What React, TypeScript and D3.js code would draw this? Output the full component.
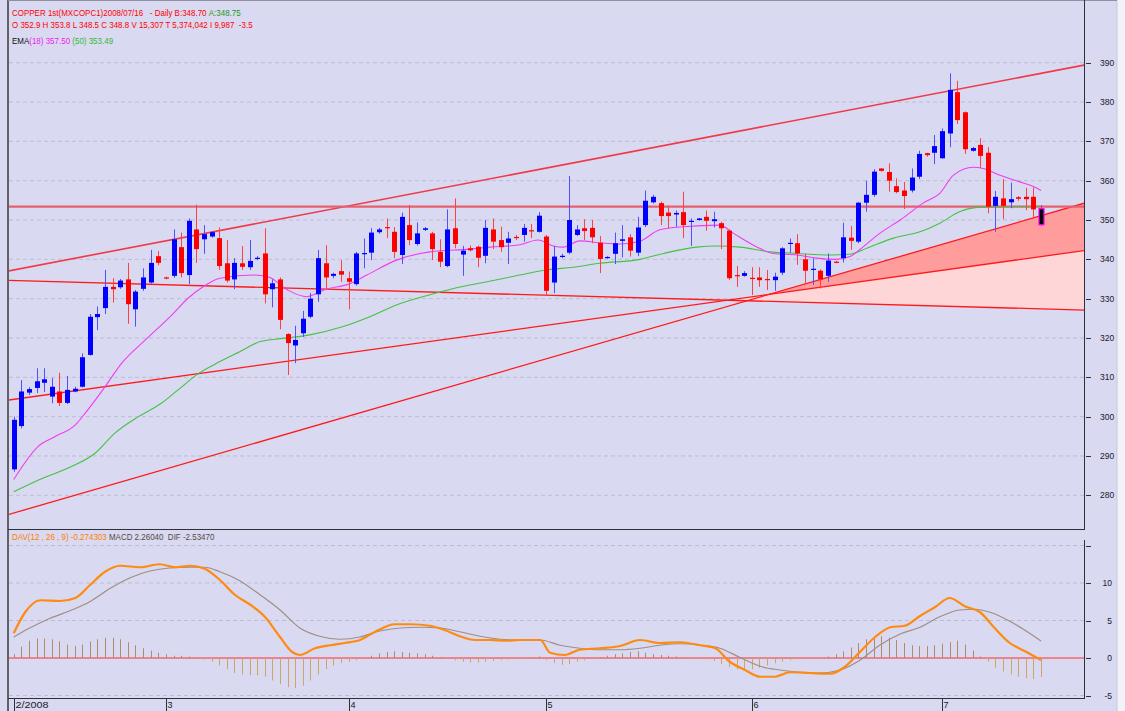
import React from "react";
import * as d3 from "d3";

const W = 1125;
const H = 711;

// ---- Daily OHLC (COPPER 1st, Feb 1 2008 .. Jul 16 2008) ----
const opens = [
  286.6, 297.6, 306.1, 307.3, 308.6, 305.1, 306.4, 303.5, 306.4, 307.6,
  315.7, 325.3, 327.6, 333.0, 332.9, 334.9, 327.3, 332.5, 334.1, 340.8,
  335.4, 335.8, 343.1, 336.0, 347.6, 345.1, 345.8, 345.4, 339.0, 334.9,
  339.0, 338.0, 340.2, 341.5, 332.4, 334.9, 321.0, 318.1, 321.2, 325.4,
  331.1, 339.0, 335.8, 337.0, 335.2, 333.7, 341.4, 341.7, 346.9, 348.2,
  347.0, 341.1, 348.7, 343.9, 347.5, 346.6, 341.9, 338.3, 347.9, 341.2,
  342.8, 343.2, 340.9, 347.6, 344.9, 344.2, 345.7, 346.2, 347.4, 347.0,
  345.8, 334.1, 340.8, 341.7, 346.2, 347.9, 348.0, 344.2, 340.4, 341.4,
  344.7, 345.6, 341.7, 348.7, 354.5, 354.3, 351.9, 351.4, 352.0, 349.5,
  350.0, 350.8, 349.7, 349.2, 347.3, 336.0, 335.8, 335.3, 335.4, 335.0,
  334.7, 336.6, 344.0, 344.1, 340.0, 337.4, 337.1, 335.8, 339.4, 340.3,
  345.5, 344.5, 354.4, 356.4, 363.1, 362.2, 358.6, 357.5, 357.5, 361.0,
  367.0, 367.1, 365.7, 372.0, 382.5, 377.4, 367.6, 369.1, 367.1, 353.6,
  355.5, 354.5, 355.8, 355.9, 355.9, 352.9,
];
const highs = [
  300.0, 309.3, 307.5, 312.3, 312.3, 309.8, 311.2, 310.3, 307.6, 316.1,
  326.1, 328.0, 337.3, 335.2, 335.0, 339.1, 332.2, 337.7, 342.4, 342.1,
  335.6, 347.6, 346.8, 350.4, 353.9, 348.7, 347.2, 348.1, 344.9, 340.3,
  343.4, 344.9, 340.8, 347.9, 334.9, 335.4, 321.2, 323.1, 326.9, 331.4,
  342.4, 343.6, 336.6, 339.8, 336.9, 341.9, 345.3, 347.9, 348.0, 350.4,
  348.2, 351.9, 353.8, 349.4, 348.2, 347.0, 345.1, 352.7, 355.5, 343.4,
  343.5, 343.5, 350.0, 350.4, 348.3, 347.0, 346.2, 349.0, 349.0, 352.0,
  346.2, 343.4, 341.4, 361.2, 348.7, 350.2, 350.0, 345.9, 340.8, 346.8,
  348.7, 346.4, 350.8, 357.5, 356.4, 354.7, 353.6, 352.4, 357.2, 350.4,
  350.5, 352.4, 352.1, 349.6, 347.6, 338.3, 337.0, 338.0, 338.0, 337.3,
  336.6, 343.1, 345.3, 346.4, 341.4, 340.3, 337.5, 341.5, 339.6, 349.3,
  348.5, 354.6, 360.0, 362.9, 363.2, 364.4, 360.6, 359.7, 363.1, 367.6,
  367.1, 371.6, 373.3, 387.3, 385.4, 377.6, 368.6, 370.8, 368.5, 357.4,
  360.4, 359.5, 356.1, 358.2, 358.3, 353.8,
];
const lows = [
  286.0, 297.0, 305.5, 306.0, 306.3, 303.4, 302.7, 303.2, 306.2, 307.4,
  315.5, 322.0, 326.1, 329.0, 332.5, 323.6, 322.9, 332.0, 333.8, 338.5,
  334.9, 335.3, 335.4, 333.7, 339.1, 341.4, 345.5, 337.3, 334.1, 332.4,
  337.3, 337.3, 339.8, 328.8, 327.8, 322.2, 310.6, 313.6, 320.3, 325.0,
  329.2, 332.6, 335.2, 334.3, 327.3, 333.3, 337.7, 339.8, 346.5, 345.4,
  340.3, 338.8, 343.6, 343.5, 347.2, 339.8, 338.0, 338.0, 342.8, 335.8,
  342.0, 338.0, 339.0, 342.6, 341.9, 338.8, 344.9, 344.5, 345.4, 346.8,
  330.7, 331.4, 340.3, 341.3, 345.9, 344.9, 344.1, 336.5, 340.2, 338.8,
  340.5, 340.7, 340.8, 348.2, 354.2, 348.7, 347.9, 348.3, 345.4, 343.4,
  349.8, 347.3, 348.1, 342.6, 334.7, 333.0, 335.6, 330.9, 333.0, 332.2,
  332.0, 336.0, 341.6, 338.6, 333.7, 333.5, 332.6, 334.3, 339.0, 339.2,
  342.4, 344.1, 352.1, 355.9, 362.3, 357.2, 356.8, 352.8, 357.0, 360.4,
  366.1, 364.2, 365.6, 368.5, 374.4, 366.8, 367.4, 363.2, 351.7, 347.0,
  350.2, 353.0, 354.9, 352.5, 350.8, 348.5,
];
const closes = [
  299.2, 306.4, 307.0, 309.0, 309.5, 307.6, 303.5, 306.8, 307.1, 315.1,
  325.4, 326.1, 333.0, 332.4, 334.6, 328.6, 331.8, 335.4, 339.1, 339.1,
  335.1, 345.1, 336.5, 349.8, 342.6, 346.4, 346.9, 338.3, 334.6, 339.1,
  338.1, 339.6, 340.4, 331.1, 333.9, 324.6, 318.7, 319.5, 324.9, 330.0,
  340.3, 335.4, 336.3, 336.1, 334.3, 341.5, 341.6, 346.8, 347.6, 348.0,
  341.9, 350.8, 344.9, 346.6, 347.9, 342.6, 339.4, 347.6, 343.9, 342.2,
  342.3, 340.4, 348.0, 344.5, 343.1, 345.3, 345.5, 348.0, 347.2, 351.1,
  332.0, 340.7, 340.9, 350.0, 347.6, 347.2, 345.6, 340.1, 340.6, 344.1,
  345.1, 342.2, 348.1, 354.9, 355.9, 351.0, 351.0, 351.8, 348.7, 349.8,
  350.4, 349.8, 350.2, 347.9, 335.2, 335.9, 336.5, 335.1, 334.7, 334.7,
  335.6, 342.8, 344.2, 341.5, 337.1, 337.6, 334.9, 339.7, 339.3, 345.6,
  344.7, 354.4, 356.4, 362.3, 362.5, 360.0, 357.1, 356.1, 360.8, 366.8,
  366.5, 368.8, 372.6, 383.1, 375.4, 368.0, 368.3, 366.3, 353.4, 355.9,
  353.6, 355.3, 355.4, 355.3, 352.7, 348.8,
];

// ---- Moving averages: [candle index, value] ----
const ema18 = [
  [0, 284.0], [3.2, 292.4], [5.4, 294.9], [8.1, 297.9], [9.4, 300.9], [12, 307.6],
  [14.2, 313.6], [17.3, 319.5], [20.8, 325.9], [22.9, 330.1], [25.1, 333.3],
  [27.1, 335.2], [31.5, 336.0], [33.5, 335.5], [36, 332.2], [38.5, 330.5], [41, 332.4],
  [44, 333.7], [46.4, 336.0], [50.3, 339.8], [54.7, 341.9], [59.9, 342.6],
  [62.6, 343.1], [66.5, 343.7], [68.9, 344.9], [70.9, 343.4], [72.2, 343.1],
  [74.4, 344.7], [77, 344.2], [79.7, 343.9], [82.3, 344.6], [84.9, 347.5],
  [88, 348.3], [92.8, 348.7], [94.6, 346.6], [97.6, 343.2], [99.8, 341.5],
  [102.9, 341.1], [105.5, 340.3], [108.1, 340.0], [109.9, 340.7], [111.2, 342.5],
  [113.8, 346.6], [116.5, 350.0], [119.5, 354.3], [121.7, 356.8], [123.5, 361.4],
  [126.1, 363.4], [127.4, 363.1], [129.6, 361.4], [132.2, 359.7], [134, 358.5],
  [135, 357.5],
];
const ema50 = [
  [0, 280.9], [3.5, 284.1], [7.6, 287.3], [10.7, 290.7], [13.3, 295.8], [16.4, 300.0],
  [19.4, 303.4], [21.6, 306.8], [24.3, 311.0], [27.1, 314.0], [29.7, 316.5],
  [32.4, 319.1], [35.4, 319.9], [38.9, 320.8], [43.3, 322.9], [46.8, 325.4],
  [50.3, 328.4], [54.7, 331.0], [57.8, 332.6], [62.2, 334.3], [66.5, 336.0],
  [70, 337.3], [73.5, 338.0], [77, 339.0], [82.3, 340.0], [85.4, 341.5],
  [89.7, 343.1], [92.4, 343.4], [95.4, 343.1], [99.4, 341.9], [102.9, 341.5],
  [107.3, 341.1], [109.9, 341.3], [112.1, 342.8], [115.6, 345.4], [119.1, 347.0],
  [121.7, 349.2], [124.3, 352.1], [126.7, 353.2], [135, 353.5],
];

// ---- Drawn trend lines: two anchors [candle index, price] each ----
const channelLine = [[0, 337.3], [135, 387.3]];
const resistanceLine = [[0, 353.4], [135, 353.4]];
const fanSteep = [[0, 275.5], [135, 351.1]];
const fanMid = [[0, 304.4], [135, 340.7]];
const fanFlat = [[0, 334.6], [135, 327.4]];

// ---- MACD panel ----
const davLine = [
  [0, 3.3], [1.5, 6.1], [3.5, 7.7], [6.1, 7.6], [8.1, 8.0], [10, 9.7], [12, 11.5],
  [14, 12.3], [16.6, 12.1], [19.2, 12.5], [21.2, 12.1], [23.2, 12.3], [25.1, 11.9],
  [27.1, 10.4], [29.1, 8.4], [31.1, 7.1], [33, 5.5], [35, 2.8], [36.6, 0.8],
  [37.6, 0.4], [39.6, 1.3], [41.6, 1.7], [43.5, 2.0], [45.5, 2.4], [47.5, 3.5],
  [50.1, 4.5], [52.1, 4.5], [54.7, 4.3], [56.7, 3.7], [58.6, 2.9], [60.6, 2.4],
  [62.6, 2.4], [64.6, 2.3], [66.5, 2.4], [69.2, 2.4], [70.5, 0.7], [72.4, 0.4],
  [74.4, 1.1], [77, 1.3], [79.7, 1.6], [82.3, 2.4], [84.9, 2.0], [87.6, 2.1],
  [90.2, 1.7], [92.2, 1.3], [94.1, -0.5], [96.1, -1.6], [98.1, -2.5], [100, -2.5],
  [102, -1.9], [104.6, -2.0], [107.3, -2.1], [109.2, -1.2], [111.2, 0.8],
  [113.2, 2.8], [115.2, 4.1], [117.1, 4.3], [119.1, 5.6], [121.1, 6.8], [123, 8.0],
  [125, 6.9], [127, 6.1], [128.9, 4.0], [130.9, 2.0], [132.9, 0.9], [135, -0.27],
];
const macdLine = [
  [0, 2.8], [2.1, 4.0], [4.8, 5.3], [7.4, 6.3], [10, 7.5], [12.7, 9.3], [15.3, 10.7],
  [17.9, 11.6], [20.5, 12.0], [23.2, 12.1], [25.1, 12.1], [27.1, 11.5], [29.7, 10.3],
  [32.4, 8.4], [35, 6.4], [37.6, 4.0], [40.2, 2.9], [42.9, 2.5], [45.5, 2.8],
  [48.1, 3.6], [50.8, 4.0], [53.4, 4.1], [56, 4.0], [58.6, 3.5], [61.3, 2.9],
  [63.9, 2.5], [66.5, 2.4], [69.2, 2.4], [71.8, 1.7], [74.4, 1.3], [77, 1.1],
  [79.7, 1.1], [82.3, 1.3], [84.9, 1.7], [87.6, 1.9], [90.2, 1.7], [92.8, 1.3],
  [95.4, 0.1], [98.1, -1.1], [100.7, -1.6], [103.3, -1.9], [105.9, -2.0],
  [108.6, -1.6], [111.2, -0.3], [113.8, 1.7], [116.5, 3.2], [119.1, 4.1],
  [121.7, 5.5], [124.3, 6.4], [126.3, 6.5], [128.3, 6.1], [130.9, 4.9],
  [132.9, 3.7], [135, 2.26],
];
const difBars = [
  0.5, 1.5, 2.3, 2.6, 2.6, 2.5, 2.2, 1.8, 1.6, 1.8,
  2.2, 2.5, 2.7, 2.7, 2.5, 2.1, 1.7, 1.3, 1.0, 0.7,
  0.5, 0.3, 0.3, 0.2, 0.1, -0.2, -0.5, -1.0, -1.5, -2.0,
  -2.2, -2.3, -2.3, -2.5, -3.0, -3.5, -3.9, -4.0, -3.7, -3.0,
  -2.2, -1.5, -1.0, -0.7, -0.5, -0.3, 0.0, 0.3, 0.6, 0.8,
  0.9, 0.8, 0.7, 0.6, 0.5, 0.3, 0.1, -0.1, -0.3, -0.5,
  -0.6, -0.6, -0.5, -0.4, -0.3, -0.2, -0.1, 0.0, 0.1, 0.2,
  -0.3, -0.7, -0.9, -0.8, -0.5, -0.3, -0.1, 0.1, 0.3, 0.5,
  0.6, 0.8, 0.9, 0.7, 0.5, 0.4, 0.3, 0.2, 0.1, 0.0,
  -0.1, -0.2, -0.4, -0.8, -1.2, -1.5, -1.6, -1.5, -1.3, -1.0,
  -0.7, -0.5, -0.3, -0.2, -0.1, -0.1, 0.0, 0.2, 0.5, 0.9,
  1.4, 2.0, 2.5, 2.8, 2.9, 2.7, 2.4, 2.0, 1.7, 1.6,
  1.6, 1.7, 1.9, 2.1, 2.3, 1.8, 1.0, 0.2, -0.5, -1.3,
  -1.8, -2.2, -2.5, -2.7, -2.8, -2.53,
];

const priceTicks = [280, 290, 300, 310, 320, 330, 340, 350, 360, 370, 380, 390];
const macdTicks = [15, 10, 5, 0, -5];
const macdTickLabels = ["", "10", "5", "0", "-5"];
const monthTickIdx = [0, 20, 44, 70, 97, 122];
const monthTickLabels = ["2/2008", "3", "4", "5", "6", "7"];

const FONT = "'Liberation Sans', Arial, sans-serif";
const BG = "#d9d9f1";

export default function App() {
  const L = 8;
  const R = 1084;
  const mainTop = 0;
  const mainBottom = 529;
  const macdTop = 530;
  const macdBottom = 698;

  const x = d3.scaleLinear().domain([0, 135]).range([13.7, 1041]);
  const y = d3.scaleLinear().domain([280, 390]).range([495.3, 62.7]);
  const ym = d3.scaleLinear().domain([-5, 10]).range([695.5, 583]);

  const toPix = (ln: number[][]) => ln.map((p) => [x(p[0]), y(p[1])]);
  const yAt = (ln: number[][], px: number) => {
    const [[x0, y0], [x1, y1]] = toPix(ln);
    return y0 + ((y1 - y0) * (px - x0)) / (x1 - x0);
  };
  const fullLine = (ln: number[][]) => ({ x1: L, y1: yAt(ln, L), x2: R, y2: yAt(ln, R) });
  const intersect = (a: number[][], b: number[][]) => {
    const [[ax0, ay0], [ax1, ay1]] = toPix(a);
    const [[bx0, by0], [bx1, by1]] = toPix(b);
    const ma = (ay1 - ay0) / (ax1 - ax0);
    const mb = (by1 - by0) / (bx1 - bx0);
    const ca = ay0 - ma * ax0;
    const cb = by0 - mb * bx0;
    const xi = (cb - ca) / (ma - mb);
    return [xi, ma * xi + ca];
  };

  const pSM = intersect(fanSteep, fanMid);
  const pMF = intersect(fanMid, fanFlat);
  const darkPoly = [pSM, [R, yAt(fanSteep, R)], [R, yAt(fanMid, R)]];
  const lightPoly = [pMF, [R, yAt(fanMid, R)], [R, yAt(fanFlat, R)]];

  const lineGen = d3
    .line<number[]>()
    .x((d) => x(d[0]))
    .y((d) => y(d[1]))
    .curve(d3.curveMonotoneX);
  const macdGen = d3
    .line<number[]>()
    .x((d) => x(d[0]))
    .y((d) => ym(d[1]))
    .curve(d3.curveMonotoneX);

  const bodyW = 5;
  const last = closes.length - 1;
  const pre = { whiteSpace: "pre" as const };
  const hdr = (ty: number) => `translate(12,${ty}) scale(0.84,1)`;

  return (
    <svg
      width={W}
      height={H}
      style={{ position: "absolute", left: 0, top: 0, background: BG }}
      fontFamily={FONT}
    >
      <defs>
        <clipPath id="mainClip">
          <rect x={L + 1} y={mainTop} width={R - L - 1} height={mainBottom - mainTop} />
        </clipPath>
        <clipPath id="macdClip">
          <rect x={L + 1} y={macdTop} width={R - L - 1} height={macdBottom - macdTop} />
        </clipPath>
      </defs>
      <rect x={0} y={0} width={W} height={H} fill={BG} />
      <rect x={1117} y={0} width={8} height={H} fill="#f2f2f8" />
      <line x1={1117} y1={0} x2={1117} y2={H} stroke="#c8c8dc" />

      {/* grid main */}
      {priceTicks.map((t) => (
        <line key={"g" + t} x1={L + 1} x2={R} y1={y(t)} y2={y(t)} stroke="#bcbcd2" strokeDasharray="4,3" />
      ))}
      {/* grid macd */}
      {macdTicks.filter((t) => t !== 0).map((t) => (
        <line key={"gm" + t} x1={L + 1} x2={R} y1={ym(t)} y2={ym(t)} stroke="#bcbcd2" strokeDasharray="4,3" />
      ))}

      <g clipPath="url(#mainClip)">
        <polygon points={lightPoly.map((p) => p.join(",")).join(" ")} fill="#ffd6d8" />
        <polygon points={darkPoly.map((p) => p.join(",")).join(" ")} fill="#ff9c9c" />
        {[fanSteep, fanMid, fanFlat].map((ln, i) => {
          const f = fullLine(ln);
          return <line key={"fan" + i} {...f} stroke="#ff1a1a" strokeWidth={1.3} />;
        })}
        <line {...fullLine(channelLine)} stroke="#f03a48" strokeWidth={1.6} />
        <line {...fullLine(resistanceLine)} stroke="#e6606e" strokeWidth={2.2} />

        <path d={lineGen(ema50 as any) || ""} fill="none" stroke="#44c244" strokeWidth={1.1} />
        <path d={lineGen(ema18 as any) || ""} fill="none" stroke="#f23cf2" strokeWidth={1.1} />

        {closes.map((c, i) => {
          const o = opens[i];
          const up = c >= o;
          const isLast = i === last;
          const col = isLast ? "#000000" : up ? "#0000ff" : "#ff0000";
          const wickCol = isLast ? "#ff00ff" : up ? "#5050ff" : "#ff4040";
          const cx = Math.round(x(i)) + 0.5;
          const top = y(Math.max(o, c));
          const bot = y(Math.min(o, c));
          const h = Math.max(1.2, bot - top);
          return (
            <g key={"c" + i}>
              <line x1={cx} x2={cx} y1={y(highs[i])} y2={y(lows[i])} stroke={wickCol} strokeWidth={1} />
              <rect
                x={cx - bodyW / 2}
                y={top}
                width={bodyW}
                height={h}
                fill={col}
                stroke={isLast ? "#ff00ff" : "none"}
                strokeWidth={isLast ? 1.2 : 0}
              />
            </g>
          );
        })}
      </g>

      {/* MACD panel */}
      <g clipPath="url(#macdClip)">
        <line x1={L + 1} x2={R} y1={ym(0)} y2={ym(0)} stroke="#ff3030" strokeWidth={1.2} />
        {difBars.map((v, i) => (
          <line
            key={"h" + i}
            x1={Math.round(x(i)) + 0.5}
            x2={Math.round(x(i)) + 0.5}
            y1={ym(0)}
            y2={ym(v)}
            stroke={v >= 0 ? "#b08a6a" : "#d2a464"}
            strokeWidth={1}
          />
        ))}
        <path d={macdGen(macdLine as any) || ""} fill="none" stroke="#a08e84" strokeWidth={1.2} />
        <path d={macdGen(davLine as any) || ""} fill="none" stroke="#ff8a10" strokeWidth={2.2} />
      </g>

      {/* frames */}
      <line x1={L} x2={L} y1={0} y2={H} stroke="#606068" strokeWidth={2} />
      <line x1={L} x2={1117} y1={0.5} y2={0.5} stroke="#9090a0" strokeWidth={1} />
      <line x1={R + 0.5} x2={R + 0.5} y1={0} y2={mainBottom} stroke="#303038" strokeWidth={1} />
      <line x1={R + 0.5} x2={R + 0.5} y1={macdTop + 10} y2={macdBottom} stroke="#303038" strokeWidth={1} />
      <line x1={L} x2={R + 1} y1={mainBottom + 0.5} y2={mainBottom + 0.5} stroke="#303038" strokeWidth={1} />
      <line x1={L} x2={R + 1} y1={macdBottom + 0.5} y2={macdBottom + 0.5} stroke="#303038" strokeWidth={1} />

      {/* price axis */}
      {priceTicks.map((t) => (
        <g key={"pt" + t}>
          <line x1={R + 2} x2={R + 7} y1={Math.round(y(t)) + 0.5} y2={Math.round(y(t)) + 0.5} stroke="#303038" />
          <text x={1100} y={y(t) + 3} fontSize={8.5} fill="#202028">
            {t}
          </text>
        </g>
      ))}
      {/* macd axis */}
      {macdTicks.map((t, i) => (
        <g key={"mt" + t}>
          <line x1={R + 2} x2={R + 7} y1={Math.round(ym(t)) + 0.5} y2={Math.round(ym(t)) + 0.5} stroke="#303038" />
          <text x={1112} y={ym(t) + 3} fontSize={8.5} fill="#202028" textAnchor="end">
            {macdTickLabels[i]}
          </text>
        </g>
      ))}

      {/* time axis */}
      {monthTickIdx.map((idx, i) => {
        const tx = Math.round(x(idx)) + 0.5;
        return (
          <g key={"tt" + idx}>
            <line x1={tx} x2={tx} y1={macdBottom} y2={H} stroke="#303038" />
            <text x={tx + 1} y={708} fontSize={9} fill="#202028" textLength={i === 0 ? 33 : undefined} lengthAdjust="spacingAndGlyphs">
              {monthTickLabels[i]}
            </text>
          </g>
        );
      })}

      {/* header texts: condensed via horizontal scale, colored runs flow in sequence */}
      <g fontSize={9.5}>
        <text transform={hdr(15.5)} style={pre}>
          <tspan fill="#ff0000">{"COPPER 1st(MXCOPC1)2008/07/16   - Daily B:348.70 "}</tspan>
          <tspan fill="#1a9a1a">{"A:348.75"}</tspan>
        </text>
        <text transform={hdr(27.5)} fill="#ff0000" style={pre}>
          {"O 352.9 H 353.8 L 348.5 C 348.8 V 15,307 T 5,374,042 I 9,987  -3.5"}
        </text>
        <text transform={hdr(44)} style={pre}>
          <tspan fill="#101010">{"EMA"}</tspan>
          <tspan fill="#ee22ee">{"(18) 357.50 "}</tspan>
          <tspan fill="#33bb33">{"(50) 353.49"}</tspan>
        </text>
        <text transform={hdr(540)} style={pre}>
          <tspan fill="#ff8000">{"DAV(12 , 26 , 9) -0.274303 "}</tspan>
          <tspan fill="#554a44">{"MACD 2.26040  DIF -2.53470"}</tspan>
        </text>
      </g>
    </svg>
  );
}
